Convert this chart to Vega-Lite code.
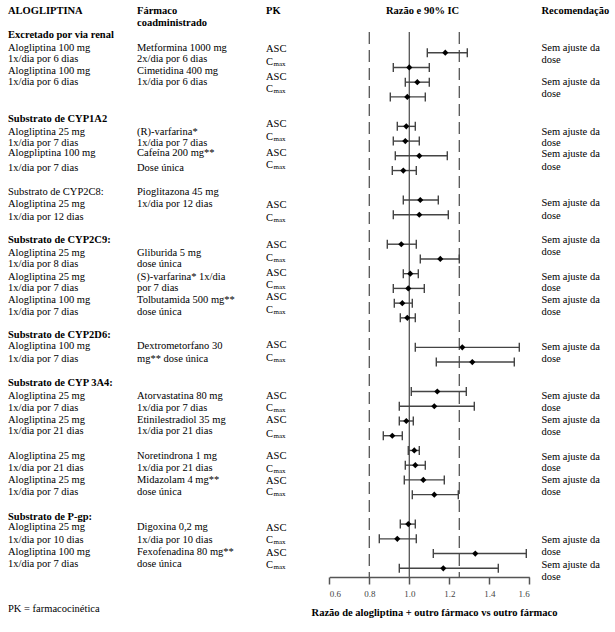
{
  "$schema": "https://vega.github.io/schema/vega-lite/v6.json",
  "width": 615,
  "height": 577,
  "autosize": {"type": "none"},
  "padding": {"left": 0, "top": 0, "right": 0, "bottom": 55},
  "background": "white",
  "config": {
    "view": {"stroke": null},
    "text": {"font": "Liberation Serif", "fontSize": 10.5, "color": "black"},
    "axisX": {
      "grid": false,
      "domainColor": "#555", "domainWidth": 1.5,
      "tickColor": "#555", "tickWidth": 1.5, "tickSize": 7,
      "labelFont": "Liberation Sans Narrow", "labelFontSize": 9, "labelColor": "#444", "labelPadding": 5,
      "titleFont": "Liberation Serif", "titleFontSize": 10.5, "titleFontWeight": "bold", "titleColor": "black",
      "titleX": 434, "titleY": 35.5, "titleBaseline": "middle", "titleAlign": "center"
    }
  },
  "datasets": {
    "refs": [
      {"ref": 0.8, "estilo": "tracejada"},
      {"ref": 1.25, "estilo": "tracejada"},
      {"ref": 1.0, "estilo": "solida"}
    ],
    "pontos": [
      {"farmaco": "Metformina", "pk": "ASC", "linha": 0, "razao": 1.18, "li": 1.09, "ls": 1.29},
      {"farmaco": "Metformina", "pk": "Cmax", "linha": 1, "razao": 1.0, "li": 0.92, "ls": 1.1},
      {"farmaco": "Cimetidina", "pk": "ASC", "linha": 2, "razao": 1.04, "li": 0.98, "ls": 1.1},
      {"farmaco": "Cimetidina", "pk": "Cmax", "linha": 3, "razao": 0.99, "li": 0.905, "ls": 1.08},
      {"farmaco": "(R)-varfarina", "pk": "ASC", "linha": 5, "razao": 0.985, "li": 0.94, "ls": 1.03},
      {"farmaco": "(R)-varfarina", "pk": "Cmax", "linha": 6, "razao": 0.98, "li": 0.92, "ls": 1.05},
      {"farmaco": "Cafeína", "pk": "ASC", "linha": 7, "razao": 1.05, "li": 0.93, "ls": 1.19},
      {"farmaco": "Cafeína", "pk": "Cmax", "linha": 8, "razao": 0.97, "li": 0.915, "ls": 1.035},
      {"farmaco": "Pioglitazona", "pk": "ASC", "linha": 10, "razao": 1.055, "li": 0.97, "ls": 1.145},
      {"farmaco": "Pioglitazona", "pk": "Cmax", "linha": 11, "razao": 1.05, "li": 0.92, "ls": 1.195},
      {"farmaco": "Gliburida", "pk": "ASC", "linha": 13, "razao": 0.96, "li": 0.89, "ls": 1.035},
      {"farmaco": "Gliburida", "pk": "Cmax", "linha": 14, "razao": 1.155, "li": 1.055, "ls": 1.25},
      {"farmaco": "(S)-varfarina", "pk": "ASC", "linha": 15, "razao": 1.005, "li": 0.97, "ls": 1.045},
      {"farmaco": "(S)-varfarina", "pk": "Cmax", "linha": 16, "razao": 0.995, "li": 0.92, "ls": 1.075},
      {"farmaco": "Tolbutamida", "pk": "ASC", "linha": 17, "razao": 0.965, "li": 0.925, "ls": 1.015},
      {"farmaco": "Tolbutamida", "pk": "Cmax", "linha": 18, "razao": 0.99, "li": 0.955, "ls": 1.03},
      {"farmaco": "Dextrometorfano", "pk": "ASC", "linha": 20, "razao": 1.265, "li": 1.03, "ls": 1.55},
      {"farmaco": "Dextrometorfano", "pk": "Cmax", "linha": 21, "razao": 1.315, "li": 1.135, "ls": 1.525},
      {"farmaco": "Atorvastatina", "pk": "ASC", "linha": 23, "razao": 1.14, "li": 1.01, "ls": 1.285},
      {"farmaco": "Atorvastatina", "pk": "Cmax", "linha": 24, "razao": 1.125, "li": 0.95, "ls": 1.325},
      {"farmaco": "Etinilestradiol", "pk": "ASC", "linha": 25, "razao": 0.985, "li": 0.95, "ls": 1.02},
      {"farmaco": "Etinilestradiol", "pk": "Cmax", "linha": 26, "razao": 0.915, "li": 0.87, "ls": 0.965},
      {"farmaco": "Noretindrona", "pk": "ASC", "linha": 27, "razao": 1.025, "li": 0.995, "ls": 1.05},
      {"farmaco": "Noretindrona", "pk": "Cmax", "linha": 28, "razao": 1.03, "li": 0.98, "ls": 1.08},
      {"farmaco": "Midazolam", "pk": "ASC", "linha": 29, "razao": 1.07, "li": 0.975, "ls": 1.175},
      {"farmaco": "Midazolam", "pk": "Cmax", "linha": 30, "razao": 1.125, "li": 1.015, "ls": 1.245},
      {"farmaco": "Digoxina", "pk": "ASC", "linha": 32, "razao": 0.995, "li": 0.955, "ls": 1.03},
      {"farmaco": "Digoxina", "pk": "Cmax", "linha": 33, "razao": 0.94, "li": 0.85, "ls": 1.035},
      {"farmaco": "Fexofenadina", "pk": "ASC", "linha": 34, "razao": 1.33, "li": 1.12, "ls": 1.585},
      {"farmaco": "Fexofenadina", "pk": "Cmax", "linha": 35, "razao": 1.17, "li": 0.95, "ls": 1.445}
    ],
    "textos": [
      {"coluna": 1, "tipo": "cab", "txt": "ALOGLIPTINA", "linha": -2.83},
      {"coluna": 2, "tipo": "cab", "txt": "Fármaco", "linha": -2.83},
      {"coluna": 2, "tipo": "cab", "txt": "coadministrado", "linha": -2.0},
      {"coluna": 3, "tipo": "cab", "txt": "PK", "linha": -2.83},
      {"coluna": 4, "tipo": "cab", "txt": "Razão e 90% IC", "linha": -2.83},
      {"coluna": 5, "tipo": "cab", "txt": "Recomendação", "linha": -2.83},

      {"coluna": 1, "tipo": "grupo", "txt": "Excretado por via renal", "linha": -1.2},
      {"coluna": 1, "tipo": "linha", "txt": "Alogliptina 100 mg", "linha": -0.34},
      {"coluna": 1, "tipo": "linha", "txt": "1x/dia por 6 dias", "linha": 0.45},
      {"coluna": 1, "tipo": "linha", "txt": "Alogliptina 100 mg", "linha": 1.22},
      {"coluna": 1, "tipo": "linha", "txt": "1x/dia por 6 dias", "linha": 1.99},
      {"coluna": 2, "tipo": "linha", "txt": "Metformina 1000 mg", "linha": -0.34},
      {"coluna": 2, "tipo": "linha", "txt": "2x/dia por 6 dias", "linha": 0.45},
      {"coluna": 2, "tipo": "linha", "txt": "Cimetidina 400 mg", "linha": 1.22},
      {"coluna": 2, "tipo": "linha", "txt": "1x/dia por 6 dias", "linha": 1.99},
      {"coluna": 3, "tipo": "pk", "txt": "ASC", "linha": -0.23},
      {"coluna": 3, "tipo": "pk", "txt": "C", "linha": 0.63},
      {"coluna": 3, "tipo": "pk", "txt": "ASC", "linha": 1.67},
      {"coluna": 3, "tipo": "pk", "txt": "C", "linha": 2.48},
      {"coluna": 5, "tipo": "linha", "txt": "Sem ajuste da", "linha": -0.34},
      {"coluna": 5, "tipo": "linha", "txt": "dose", "linha": 0.52},
      {"coluna": 5, "tipo": "linha", "txt": "Sem ajuste da", "linha": 2.01},
      {"coluna": 5, "tipo": "linha", "txt": "dose", "linha": 2.82},

      {"coluna": 1, "tipo": "grupo", "txt": "Substrato de CYP1A2", "linha": 4.52},
      {"coluna": 1, "tipo": "linha", "txt": "Alogliptina 25 mg", "linha": 5.36},
      {"coluna": 1, "tipo": "linha", "txt": "1x/dia por 7 dias", "linha": 6.11},
      {"coluna": 1, "tipo": "linha", "txt": "Alogpliptina 100 mg", "linha": 6.83},
      {"coluna": 1, "tipo": "linha", "txt": "1x/dia por 7 dias", "linha": 7.81},
      {"coluna": 2, "tipo": "linha", "txt": "(R)-varfarina*", "linha": 5.36},
      {"coluna": 2, "tipo": "linha", "txt": "1x/dia por 7 dias", "linha": 6.11},
      {"coluna": 2, "tipo": "linha", "txt": "Cafeína 200 mg**", "linha": 6.83},
      {"coluna": 2, "tipo": "linha", "txt": "Dose única", "linha": 7.81},
      {"coluna": 3, "tipo": "pk", "txt": "ASC", "linha": 4.86},
      {"coluna": 3, "tipo": "pk", "txt": "C", "linha": 5.74},
      {"coluna": 3, "tipo": "pk", "txt": "ASC", "linha": 6.79},
      {"coluna": 3, "tipo": "pk", "txt": "C", "linha": 7.62},
      {"coluna": 5, "tipo": "linha", "txt": "Sem ajuste da", "linha": 5.36},
      {"coluna": 5, "tipo": "linha", "txt": "dose", "linha": 6.11},
      {"coluna": 5, "tipo": "linha", "txt": "Sem ajuste da", "linha": 6.9},
      {"coluna": 5, "tipo": "linha", "txt": "dose", "linha": 7.78},

      {"coluna": 1, "tipo": "linha", "txt": "Substrato de CYP2C8:", "linha": 9.44},
      {"coluna": 1, "tipo": "linha", "txt": "Alogliptina 25 mg", "linha": 10.25},
      {"coluna": 1, "tipo": "linha", "txt": "1x/dia por 12 dias", "linha": 11.13},
      {"coluna": 2, "tipo": "linha", "txt": "Pioglitazona 45 mg", "linha": 9.44},
      {"coluna": 2, "tipo": "linha", "txt": "1x/dia por 12 dias", "linha": 10.25},
      {"coluna": 3, "tipo": "pk", "txt": "ASC", "linha": 10.34},
      {"coluna": 3, "tipo": "pk", "txt": "C", "linha": 11.24},
      {"coluna": 5, "tipo": "linha", "txt": "Sem ajuste da", "linha": 10.18},
      {"coluna": 5, "tipo": "linha", "txt": "dose", "linha": 11.07},

      {"coluna": 1, "tipo": "grupo", "txt": "Substrato de CYP2C9:", "linha": 12.72},
      {"coluna": 1, "tipo": "linha", "txt": "Alogliptina 25 mg", "linha": 13.62},
      {"coluna": 1, "tipo": "linha", "txt": "1x/dia por 8 dias", "linha": 14.37},
      {"coluna": 1, "tipo": "linha", "txt": "Alogliptina 25 mg", "linha": 15.21},
      {"coluna": 1, "tipo": "linha", "txt": "1x/dia por 7 dias", "linha": 15.95},
      {"coluna": 1, "tipo": "linha", "txt": "Alogliptina 100 mg", "linha": 16.79},
      {"coluna": 1, "tipo": "linha", "txt": "1x/dia por 7 dias", "linha": 17.58},
      {"coluna": 2, "tipo": "linha", "txt": "Gliburida 5 mg", "linha": 13.62},
      {"coluna": 2, "tipo": "linha", "txt": "dose única", "linha": 14.37},
      {"coluna": 2, "tipo": "linha", "txt": "(S)-varfarina* 1x/dia", "linha": 15.21},
      {"coluna": 2, "tipo": "linha", "txt": "por 7 dias", "linha": 15.95},
      {"coluna": 2, "tipo": "linha", "txt": "Tolbutamida 500 mg**", "linha": 16.79},
      {"coluna": 2, "tipo": "linha", "txt": "dose única", "linha": 17.58},
      {"coluna": 3, "tipo": "pk", "txt": "ASC", "linha": 13.06},
      {"coluna": 3, "tipo": "pk", "txt": "C", "linha": 13.92},
      {"coluna": 3, "tipo": "pk", "txt": "ASC", "linha": 14.98},
      {"coluna": 3, "tipo": "pk", "txt": "C", "linha": 15.8},
      {"coluna": 3, "tipo": "pk", "txt": "ASC", "linha": 16.6},
      {"coluna": 3, "tipo": "pk", "txt": "C", "linha": 17.47},
      {"coluna": 5, "tipo": "linha", "txt": "Sem ajuste da", "linha": 12.72},
      {"coluna": 5, "tipo": "linha", "txt": "dose", "linha": 13.51},
      {"coluna": 5, "tipo": "linha", "txt": "Sem ajuste da", "linha": 15.21},
      {"coluna": 5, "tipo": "linha", "txt": "dose", "linha": 15.95},
      {"coluna": 5, "tipo": "linha", "txt": "Sem ajuste da", "linha": 16.81},
      {"coluna": 5, "tipo": "linha", "txt": "dose", "linha": 17.62},

      {"coluna": 1, "tipo": "grupo", "txt": "Substrato de CYP2D6:", "linha": 19.17},
      {"coluna": 1, "tipo": "linha", "txt": "Alogliptina 100 mg", "linha": 19.91},
      {"coluna": 1, "tipo": "linha", "txt": "1x/dia por 7 dias", "linha": 20.82},
      {"coluna": 2, "tipo": "linha", "txt": "Dextrometorfano 30", "linha": 19.91},
      {"coluna": 2, "tipo": "linha", "txt": "mg** dose única", "linha": 20.82},
      {"coluna": 3, "tipo": "pk", "txt": "ASC", "linha": 19.84},
      {"coluna": 3, "tipo": "pk", "txt": "C", "linha": 20.75},
      {"coluna": 5, "tipo": "linha", "txt": "Sem ajuste da", "linha": 19.98},
      {"coluna": 5, "tipo": "linha", "txt": "dose", "linha": 20.82},

      {"coluna": 1, "tipo": "grupo", "txt": "Substrato de CYP 3A4:", "linha": 22.44},
      {"coluna": 1, "tipo": "linha", "txt": "Alogliptina 25 mg", "linha": 23.29},
      {"coluna": 1, "tipo": "linha", "txt": "1x/dia por 7 dias", "linha": 24.1},
      {"coluna": 1, "tipo": "linha", "txt": "Alogliptina 25 mg", "linha": 24.94},
      {"coluna": 1, "tipo": "linha", "txt": "1x/dia por 21 dias", "linha": 25.68},
      {"coluna": 1, "tipo": "linha", "txt": "Alogliptina 25 mg", "linha": 27.38},
      {"coluna": 1, "tipo": "linha", "txt": "1x/dia por 21 dias", "linha": 28.19},
      {"coluna": 1, "tipo": "linha", "txt": "Alogliptina 25 mg", "linha": 29.01},
      {"coluna": 1, "tipo": "linha", "txt": "1x/dia por 7 dias", "linha": 29.8},
      {"coluna": 2, "tipo": "linha", "txt": "Atorvastatina 80 mg", "linha": 23.29},
      {"coluna": 2, "tipo": "linha", "txt": "1x/dia por 7 dias", "linha": 24.1},
      {"coluna": 2, "tipo": "linha", "txt": "Etinilestradiol 35 mg", "linha": 24.94},
      {"coluna": 2, "tipo": "linha", "txt": "1x/dia por 21 dias", "linha": 25.68},
      {"coluna": 2, "tipo": "linha", "txt": "Noretindrona 1 mg", "linha": 27.38},
      {"coluna": 2, "tipo": "linha", "txt": "1x/dia por 21 dias", "linha": 28.19},
      {"coluna": 2, "tipo": "linha", "txt": "Midazolam 4 mg**", "linha": 29.01},
      {"coluna": 2, "tipo": "linha", "txt": "dose única", "linha": 29.8},
      {"coluna": 3, "tipo": "pk", "txt": "ASC", "linha": 23.29},
      {"coluna": 3, "tipo": "pk", "txt": "C", "linha": 24.14},
      {"coluna": 3, "tipo": "pk", "txt": "ASC", "linha": 24.94},
      {"coluna": 3, "tipo": "pk", "txt": "C", "linha": 25.89},
      {"coluna": 3, "tipo": "pk", "txt": "ASC", "linha": 27.36},
      {"coluna": 3, "tipo": "pk", "txt": "C", "linha": 28.28},
      {"coluna": 3, "tipo": "pk", "txt": "ASC", "linha": 29.05},
      {"coluna": 3, "tipo": "pk", "txt": "C", "linha": 29.84},
      {"coluna": 5, "tipo": "linha", "txt": "Sem ajuste da", "linha": 23.31},
      {"coluna": 5, "tipo": "linha", "txt": "dose", "linha": 24.14},
      {"coluna": 5, "tipo": "linha", "txt": "Sem ajuste da", "linha": 24.96},
      {"coluna": 5, "tipo": "linha", "txt": "dose", "linha": 25.73},
      {"coluna": 5, "tipo": "linha", "txt": "Sem ajuste da", "linha": 27.43},
      {"coluna": 5, "tipo": "linha", "txt": "dose", "linha": 28.21},
      {"coluna": 5, "tipo": "linha", "txt": "Sem ajuste da", "linha": 29.01},
      {"coluna": 5, "tipo": "linha", "txt": "dose", "linha": 29.8},

      {"coluna": 1, "tipo": "grupo", "txt": "Substrato de P-gp:", "linha": 31.5},
      {"coluna": 1, "tipo": "linha", "txt": "Alogliptina 25 mg", "linha": 32.22},
      {"coluna": 1, "tipo": "linha", "txt": "1x/dia por 10 dias", "linha": 33.08},
      {"coluna": 1, "tipo": "linha", "txt": "Alogliptina 100 mg", "linha": 33.92},
      {"coluna": 1, "tipo": "linha", "txt": "1x/dia por 7 dias", "linha": 34.73},
      {"coluna": 2, "tipo": "linha", "txt": "Digoxina 0,2 mg", "linha": 32.22},
      {"coluna": 2, "tipo": "linha", "txt": "1x/dia por 10 dias", "linha": 33.08},
      {"coluna": 2, "tipo": "linha", "txt": "Fexofenadina 80 mg**", "linha": 33.92},
      {"coluna": 2, "tipo": "linha", "txt": "dose única", "linha": 34.73},
      {"coluna": 3, "tipo": "pk", "txt": "ASC", "linha": 32.29},
      {"coluna": 3, "tipo": "pk", "txt": "C", "linha": 33.1},
      {"coluna": 3, "tipo": "pk", "txt": "ASC", "linha": 33.95},
      {"coluna": 3, "tipo": "pk", "txt": "C", "linha": 34.78},
      {"coluna": 5, "tipo": "linha", "txt": "Sem ajuste da", "linha": 33.08},
      {"coluna": 5, "tipo": "linha", "txt": "dose", "linha": 33.92},
      {"coluna": 5, "tipo": "linha", "txt": "Sem ajuste da", "linha": 34.78},
      {"coluna": 5, "tipo": "linha", "txt": "dose", "linha": 35.6},

      {"coluna": 1, "tipo": "rodape", "txt": "PK = farmacocinética", "linha": 37.73}
    ]
  },
  "resolve": {"scale": {"x": "independent"}},
  "layer": [
    {
      "layer": [
        {
          "data": {"name": "refs"},
          "transform": [{"filter": "datum.estilo == 'tracejada'"}],
          "mark": {"type": "rule", "color": "#555", "strokeWidth": 1.3, "strokeDash": [12, 6]},
          "encoding": {
            "x": {
              "field": "ref", "type": "quantitative",
              "scale": {"domain": [0.6, 1.6], "range": [329.3, 529.3], "zero": false, "nice": false},
              "axis": {"values": [0.6, 0.8, 1.0, 1.2, 1.4, 1.6], "format": ".1f", "title": "Razão de alogliptina + outro fármaco vs outro fármaco"}
            },
            "y": {"datum": -1.405, "type": "quantitative", "scale": {"domain": [0, 35], "range": [52.7, 568.3], "zero": false, "nice": false}, "axis": null},
            "y2": {"datum": 35.59}
          }
        },
        {
          "data": {"name": "refs"},
          "transform": [{"filter": "datum.estilo == 'solida'"}],
          "mark": {"type": "rule", "color": "#555", "strokeWidth": 1.3},
          "encoding": {
            "x": {"field": "ref", "type": "quantitative", "axis": {"values": [0.6, 0.8, 1.0, 1.2, 1.4, 1.6], "format": ".1f", "title": "Razão de alogliptina + outro fármaco vs outro fármaco"}},
            "y": {"datum": -1.405, "type": "quantitative", "axis": null},
            "y2": {"datum": 35.59}
          }
        },
        {
          "data": {"name": "pontos"},
          "mark": {"type": "rule", "color": "#444", "strokeWidth": 1.4},
          "encoding": {
            "x": {"field": "li", "type": "quantitative", "axis": {"values": [0.6, 0.8, 1.0, 1.2, 1.4, 1.6], "format": ".1f", "title": "Razão de alogliptina + outro fármaco vs outro fármaco"}},
            "x2": {"field": "ls"},
            "y": {"field": "linha", "type": "quantitative", "axis": null}
          }
        },
        {
          "data": {"name": "pontos"},
          "mark": {"type": "tick", "orient": "vertical", "size": 9, "thickness": 1.4, "color": "#444", "opacity": 1},
          "encoding": {
            "x": {"field": "li", "type": "quantitative", "axis": {"values": [0.6, 0.8, 1.0, 1.2, 1.4, 1.6], "format": ".1f", "title": "Razão de alogliptina + outro fármaco vs outro fármaco"}},
            "y": {"field": "linha", "type": "quantitative", "axis": null}
          }
        },
        {
          "data": {"name": "pontos"},
          "mark": {"type": "tick", "orient": "vertical", "size": 9, "thickness": 1.4, "color": "#444", "opacity": 1},
          "encoding": {
            "x": {"field": "ls", "type": "quantitative", "axis": {"values": [0.6, 0.8, 1.0, 1.2, 1.4, 1.6], "format": ".1f", "title": "Razão de alogliptina + outro fármaco vs outro fármaco"}},
            "y": {"field": "linha", "type": "quantitative", "axis": null}
          }
        },
        {
          "data": {"name": "pontos"},
          "mark": {"type": "point", "shape": "diamond", "filled": true, "size": 38, "color": "black", "opacity": 1},
          "encoding": {
            "x": {"field": "razao", "type": "quantitative", "axis": {"values": [0.6, 0.8, 1.0, 1.2, 1.4, 1.6], "format": ".1f", "title": "Razão de alogliptina + outro fármaco vs outro fármaco"}},
            "y": {"field": "linha", "type": "quantitative", "axis": null}
          }
        }
      ]
    },
    {
      "data": {"name": "textos"},
      "encoding": {
        "x": {
          "field": "coluna", "type": "quantitative",
          "scale": {"domain": [1, 2, 3, 4, 5], "range": [8, 137, 266, 386, 541.5], "zero": false, "nice": false},
          "axis": null
        },
        "y": {"field": "linha", "type": "quantitative", "axis": null}
      },
      "layer": [
        {
          "transform": [{"filter": "datum.tipo == 'cab' || datum.tipo == 'grupo'"}],
          "mark": {"type": "text", "align": "left", "baseline": "middle", "fontWeight": "bold"},
          "encoding": {"text": {"field": "txt"}}
        },
        {
          "transform": [{"filter": "datum.tipo == 'linha' || datum.tipo == 'pk' || datum.tipo == 'rodape'"}],
          "mark": {"type": "text", "align": "left", "baseline": "middle"},
          "encoding": {"text": {"field": "txt"}}
        },
        {
          "transform": [{"filter": "datum.tipo == 'pk' && datum.txt == 'C'"}],
          "mark": {"type": "text", "align": "left", "baseline": "middle", "fontSize": 7, "dx": 7.5, "dy": 2},
          "encoding": {"text": {"value": "max"}}
        }
      ]
    }
  ]
}
